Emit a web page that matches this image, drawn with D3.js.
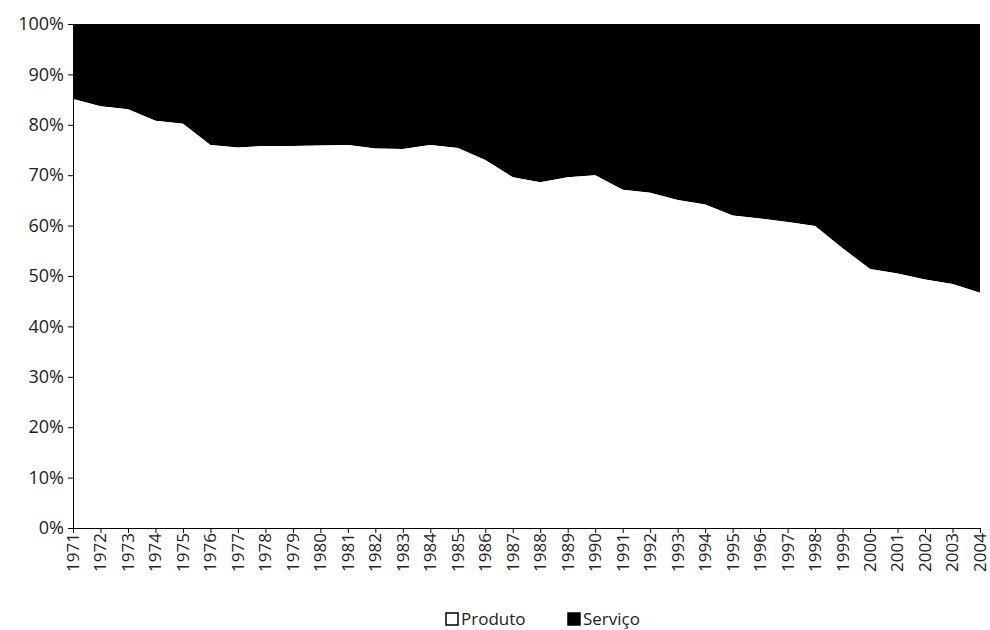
<!DOCTYPE html>
<html>
<head>
<meta charset="utf-8">
<script src="https://cdn.jsdelivr.net/npm/d3@7"></script>
<style>
  body { margin: 0; background: #fff; }
  text { font-family: "Open Sans", sans-serif; fill: #222; }
</style>
</head>
<body>
<svg id="chart" width="990" height="630"></svg>
<script>
const years = d3.range(1971, 2005);
// share of "Produto" (%); "Serviço" is the rest up to 100
const produto = [85.1, 83.7, 83.1, 80.8, 80.2, 76.0, 75.5, 75.8, 75.8, 75.9,
  76.0, 75.3, 75.2, 76.0, 75.4, 73.0, 69.6, 68.6, 69.6, 70.0,
  67.1, 66.5, 65.1, 64.2, 62.0, 61.4, 60.7, 59.9, 55.5, 51.4,
  50.5, 49.3, 48.4, 46.7];
const yTicks = [0, 10, 20, 30, 40, 50, 60, 70, 80, 90, 100];

const svg = d3.select("#chart");
const mLeft = 73, mRight = 980, mTop = 24, mBottom = 528;

const x = d3.scaleLinear().domain([1971, 2004]).range([mLeft, mRight]);
const y = d3.scaleLinear().domain([0, 100]).range([mBottom, mTop]);

const rows = years.map((yr, i) => ({ yr, p: produto[i] }));

// Serviço (black) on top
svg.append("path")
  .datum(rows)
  .attr("fill", "#000")
  .attr("d", d3.area().x(d => x(d.yr)).y0(d => y(d.p)).y1(y(100)));

svg.append("path")
  .datum(rows)
  .attr("fill", "#fff")
  .attr("d", d3.area().x(d => x(d.yr)).y0(y(0)).y1(d => y(d.p)));

const yAxis = svg.append("g")
  .attr("transform", `translate(${mLeft},0)`)
  .call(d3.axisLeft(y).tickValues(yTicks).tickFormat(d => d + "%").tickSize(5).tickSizeOuter(0));
yAxis.selectAll("text").style("font-size", "18px").attr("dx", "-1");

const xAxis = svg.append("g")
  .attr("transform", `translate(0,${mBottom})`)
  .call(d3.axisBottom(x).tickValues(years).tickFormat(d3.format("d")).tickSize(5).tickSizeOuter(0));
xAxis.selectAll("text")
  .style("font-size", "17px")
  .attr("transform", "rotate(-90)")
  .attr("text-anchor", "end")
  .attr("x", -5).attr("y", 0).attr("dy", "0.32em");
svg.selectAll(".domain, .tick line").attr("stroke", "#000");

// legend
const legend = [{ name: "Produto", fill: "#fff", x: 446 }, { name: "Serviço", fill: "#000", x: 568 }];
const lg = svg.selectAll(".lg").data(legend).join("g").attr("transform", d => `translate(${d.x},613)`);
lg.append("rect").attr("width", 12).attr("height", 12).attr("fill", d => d.fill).attr("stroke", "#000").attr("stroke-width", 1.5);
lg.append("text").attr("x", 15).attr("y", 12).style("font-size", "17px").text(d => d.name);
</script>
</body>
</html>
